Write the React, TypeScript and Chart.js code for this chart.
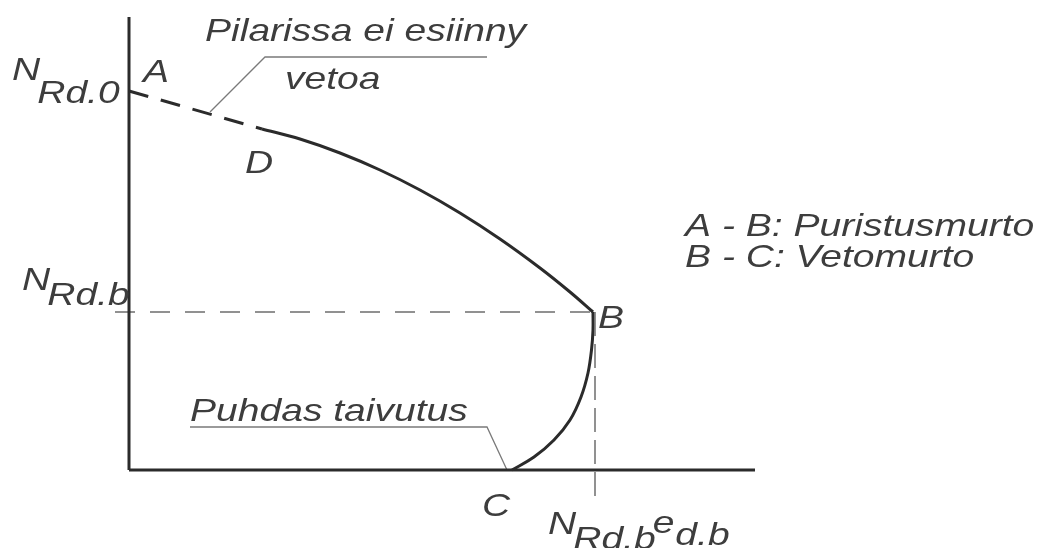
import React, { useEffect, useRef } from "react";
import { Chart, registerables } from "chart.js";

Chart.register(...registerables);

// Moment axis (M) and normal force axis (N), arbitrary units
const axisEndM = 62.6;
const axisEndN = 45.3;

// A -> D : dashed part (no tension in column)
const dashedM = [0, 13.3];
const dashedN = [37.9, 34.1];

// D -> B : compression failure
const compM = [13.3, 17.1, 21.1, 25.1, 29.1, 33.1, 37.1, 41.1, 44.1, 46.4];
const compN = [34.1, 33.1, 31.7, 30.0, 28.0, 25.7, 23.1, 20.2, 17.8, 15.8];

// B -> C : tension failure
const tensM = [46.4, 46.4, 46.25, 45.9, 45.2, 44.1, 42.5, 40.5, 38.3];
const tensN = [15.8, 14.0, 12.0, 9.7, 7.3, 5.0, 3.0, 1.3, 0];

// balanced point B
const balM = 46.5;
const balN = 15.8;

// leader lines of annotations
const leader1M = [8.1, 13.6, 35.8];
const leader1N = [35.8, 41.3, 41.3];
const leader2M = [6.1, 35.8, 37.8];
const leader2N = [4.3, 4.3, 0];

type Run = { t: string; dy: number; dx?: number };
type Label = { x: number; y: number; runs: Run[] };

const labels: Label[] = [
  { x: 7.6, y: 42.9, runs: [{ t: "Pilarissa ei esiinny", dy: 0 }] },
  { x: 15.6, y: 38.1, runs: [{ t: "vetoa", dy: 0 }] },
  { x: 1.4, y: 38.8, runs: [{ t: "A", dy: 0 }] },
  { x: 11.6, y: 29.7, runs: [{ t: "D", dy: 0 }] },
  { x: -11.7, y: 39.0, runs: [{ t: "N", dy: 0 }, { t: "Rd.0", dy: 23, dx: -3 }] },
  { x: -10.7, y: 18.0, runs: [{ t: "N", dy: 0 }, { t: "Rd.b", dy: 15, dx: -3 }] },
  { x: 46.9, y: 14.2, runs: [{ t: "B", dy: 0 }] },
  { x: 55.6, y: 23.4, runs: [{ t: "A - B: Puristusmurto", dy: 0 }] },
  { x: 55.6, y: 20.3, runs: [{ t: "B - C: Vetomurto", dy: 0 }] },
  { x: 6.1, y: 4.9, runs: [{ t: "Puhdas taivutus", dy: 0 }] },
  { x: 35.3, y: -4.6, runs: [{ t: "C", dy: 0 }] },
  {
    x: 41.9,
    y: -6.4,
    runs: [
      { t: "N", dy: 0 },
      { t: "Rd.b", dy: 15, dx: -3 },
      { t: "e", dy: -1, dx: -3 },
      { t: "d.b", dy: 11, dx: 1 },
    ],
  },
];

const pts = (xs: number[], ys: number[]) => xs.map((x, i) => ({ x, y: ys[i] }));

const FONT = 'italic 32px "Liberation Sans", Arial, sans-serif';
const SX = 1.22;
const TEXT_COLOR = "#3d3d3d";

const textPlugin = {
  id: "diagramText",
  afterDatasetsDraw(chart: any) {
    const ctx = chart.ctx as CanvasRenderingContext2D;
    const xs = chart.scales.x;
    const ys = chart.scales.y;
    ctx.save();
    ctx.font = FONT;
    ctx.fillStyle = TEXT_COLOR;
    ctx.textBaseline = "alphabetic";
    ctx.textAlign = "left";
    for (const l of labels) {
      let px = xs.getPixelForValue(l.x);
      const py = ys.getPixelForValue(l.y);
      for (const r of l.runs) {
        px += r.dx || 0;
        ctx.save();
        ctx.translate(px, py + r.dy);
        ctx.scale(SX, 1);
        ctx.fillText(r.t, 0, 0);
        ctx.restore();
        px += ctx.measureText(r.t).width * SX;
      }
    }
    ctx.restore();
  },
};

export default function App() {
  const ref = useRef<HTMLCanvasElement | null>(null);
  useEffect(() => {
    if (!ref.current) return;
    const line = "#2b2b2b";
    const grey = "#6e6e6e";
    const chart = new Chart(ref.current, {
      type: "scatter",
      data: {
        datasets: [
          { data: pts([0, 0], [0, axisEndN]), borderColor: line, borderWidth: 3 },
          { data: pts([0, axisEndM], [0, 0]), borderColor: line, borderWidth: 3 },
          {
            data: pts([-1.4, balM], [balN, balN]),
            borderColor: grey,
            borderWidth: 1.5,
            borderDash: [20, 15],
          },
          {
            data: pts([balM + 0.1, balM + 0.1], [balN, -2.6]),
            borderColor: grey,
            borderWidth: 1.5,
            borderDash: [24, 8],
          },
          { data: pts(leader1M, leader1N), borderColor: "#7a7a7a", borderWidth: 1.3 },
          { data: pts(leader2M, leader2N), borderColor: "#7a7a7a", borderWidth: 1.3 },
          {
            data: pts(dashedM, dashedN),
            borderColor: line,
            borderWidth: 3,
            borderDash: [20, 13],
          },
          { data: pts(compM, compN), borderColor: line, borderWidth: 3, tension: 0.35 },
          { data: pts(tensM, tensN), borderColor: line, borderWidth: 3, tension: 0.35 },
        ].map((d) => ({ ...d, showLine: true, pointRadius: 0, fill: false })),
      },
      options: {
        responsive: false,
        animation: false,
        events: [],
        layout: { padding: 0 },
        plugins: { legend: { display: false }, tooltip: { enabled: false } },
        scales: {
          x: { type: "linear", display: false, min: -12.9, max: 91.1 },
          y: { type: "linear", display: false, min: -7.8, max: 47.0 },
        },
      },
      plugins: [textPlugin],
    });
    return () => chart.destroy();
  }, []);
  return (
    <div style={{ position: "fixed", left: 0, top: 0, width: 1040, height: 548, background: "#fff" }}>
      <canvas ref={ref} width={1040} height={548} style={{ width: 1040, height: 548, display: "block" }} />
    </div>
  );
}
